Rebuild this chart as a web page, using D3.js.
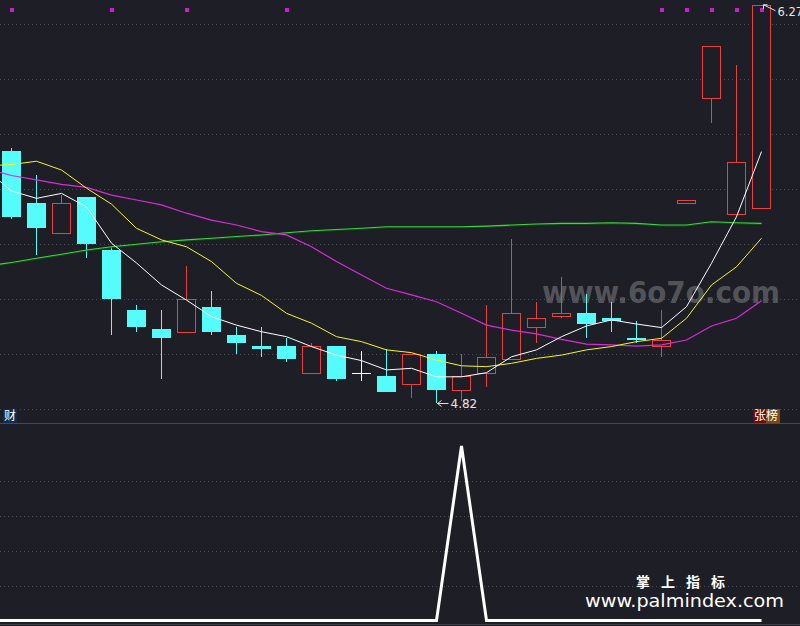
<!DOCTYPE html>
<html><head><meta charset="utf-8">
<script src="https://cdn.jsdelivr.net/npm/d3@7"></script>
<style>html,body{margin:0;padding:0;background:#1e1f26;overflow:hidden}</style>
</head><body><svg id="c" width="800" height="626"></svg>
<script>
// ---- data (prices) ----
const openP  = [5.74,5.55,5.44,5.57,5.38,5.16,5.09,5.08,5.17,5.07,5.03,5.03,4.93,5.03,4.93,4.92,4.89,5.00,4.87,4.93,4.98,5.10,5.14,5.15,5.13,5.06,5.03,5.55,5.93,5.51,5.53];
const highP  = [5.75,5.65,5.58,5.57,5.39,5.18,5.16,5.32,5.23,5.10,5.10,5.06,5.04,5.03,5.01,5.02,5.00,5.01,5.00,5.18,5.42,5.19,5.28,5.22,5.19,5.12,5.16,5.56,6.12,6.05,6.27];
const lowP   = [5.49,5.36,5.44,5.35,5.07,5.08,4.91,5.08,5.07,5.00,4.99,4.97,4.93,4.90,4.90,4.86,4.84,4.82,4.83,4.88,4.98,5.04,5.13,5.06,5.08,5.04,4.99,5.55,5.84,5.51,5.53];
const closeP = [5.50,5.46,5.55,5.40,5.20,5.10,5.06,5.20,5.08,5.04,5.02,4.98,5.03,4.91,4.93,4.86,5.00,4.87,4.92,4.99,5.15,5.13,5.15,5.11,5.12,5.05,5.05,5.56,6.12,5.70,6.27];
// moving averages and indicator start one bar before the first visible candle
const seriesStart = -1;
const ma5  = [5.669,5.593,5.566,5.584,5.535,5.403,5.331,5.251,5.196,5.136,5.105,5.081,5.063,5.027,4.996,4.976,4.942,4.948,4.917,4.917,4.932,4.990,5.015,5.063,5.102,5.124,5.109,5.096,5.172,5.330,5.499,5.736];
const ma10 = [5.684,5.689,5.701,5.669,5.603,5.545,5.457,5.415,5.390,5.336,5.257,5.213,5.148,5.112,5.063,5.045,5.015,5.005,4.978,4.957,4.954,4.966,4.984,4.996,5.015,5.027,5.045,5.057,5.130,5.251,5.317,5.421];
const ma20 = [5.673,5.649,5.633,5.617,5.606,5.578,5.560,5.542,5.512,5.487,5.469,5.445,5.433,5.390,5.336,5.287,5.239,5.215,5.190,5.148,5.105,5.087,5.073,5.053,5.036,5.033,5.029,5.033,5.051,5.102,5.130,5.194];
const ma60 = [5.320,5.333,5.348,5.363,5.378,5.390,5.399,5.408,5.415,5.421,5.427,5.433,5.441,5.448,5.453,5.457,5.463,5.463,5.463,5.463,5.465,5.469,5.473,5.475,5.475,5.477,5.475,5.469,5.469,5.481,5.477,5.475];
const signal = [0,0,0,0,0,0,0,0,0,0,0,0,0,0,0,0,0,0,0,1,0,0,0,0,0,0,0,0,0,0,0,0];
const markBars = [0,4,7,11,26,27,28,29,30];
const priceTicks = [4.8,5.0,5.2,5.4,5.6,5.8,6.0,6.2];
const lowTicks = [0.2,0.4,0.6,0.8];
const lowLabel = "4.82", highLabel = "6.27";

// ---- layout ----
const W = 800, H = 626;
const svg = d3.select("#c");
const BG = "#1e1f26", RED = "#e8413f", CYAN = "#54fcfc";
const x = d3.scaleLinear().domain([0,30]).range([11.5,761.5]);
const y = d3.scaleLinear().domain([4.8,6.2]).range([409,24]);
const yl = d3.scaleLinear().domain([0,1]).range([620.5,446]);
const bw = (x(1)-x(0))*0.76;

svg.append("rect").attr("width",W).attr("height",H).attr("fill",BG);
const defs = svg.append("defs");
defs.append("clipPath").attr("id","clipTop").append("rect").attr("x",0).attr("y",0).attr("width",W).attr("height",423);
defs.append("clipPath").attr("id","clipBot").append("rect").attr("x",0).attr("y",424).attr("width",W).attr("height",200);

// grid
const grid = svg.append("g").attr("stroke","#4b4d57").attr("stroke-dasharray","1,3");
grid.selectAll(".gp").data(priceTicks).join("line").attr("class","gp").attr("x1",0).attr("x2",W)
  .attr("y1",d=>Math.round(y(d))+0.5).attr("y2",d=>Math.round(y(d))+0.5);
grid.selectAll(".gl").data(lowTicks).join("line").attr("class","gl").attr("x1",0).attr("x2",W)
  .attr("y1",d=>Math.round(yl(d))+0.5).attr("y2",d=>Math.round(yl(d))+0.5);

// separators
svg.append("line").attr("x1",0).attr("x2",W).attr("y1",423.5).attr("y2",423.5).attr("stroke","#474955");
svg.append("line").attr("x1",0).attr("x2",W).attr("y1",624.5).attr("y2",624.5).attr("stroke","#3a3c47");

// watermark
svg.append("text").attr("x",542).attr("y",303).attr("textLength",238).attr("lengthAdjust","spacingAndGlyphs")
  .attr("font-family","DejaVu Sans").attr("font-weight","bold").attr("font-size",31)
  .attr("fill","rgba(150,150,155,0.45)").text("www.6o7o.com");

const gTop = svg.append("g").attr("clip-path","url(#clipTop)");

// candles
const idx = d3.range(openP.length);
const candles = gTop.append("g");
idx.forEach(i=>{
  const o=openP[i], c=closeP[i], h=highP[i], l=lowP[i];
  const cx = x(i);
  const yT = Math.round(y(Math.max(o,c))), yB = Math.round(y(Math.min(o,c)));
  const yH = Math.round(y(h)), yL = Math.round(y(l));
  if (c > o) {
    if (yH < yT) candles.append("line").attr("x1",cx).attr("x2",cx).attr("y1",yH).attr("y2",yT).attr("stroke",RED);
    if (yL > yB) candles.append("line").attr("x1",cx).attr("x2",cx).attr("y1",yB).attr("y2",yL).attr("stroke",RED);
    candles.append("rect").attr("x",Math.round(cx-bw/2)+0.5).attr("y",yT+0.5)
      .attr("width",Math.round(bw)-1).attr("height",Math.max(1,yB-yT)).attr("fill",BG).attr("stroke",RED);
  } else if (c < o) {
    candles.append("line").attr("x1",cx).attr("x2",cx).attr("y1",yH).attr("y2",yL).attr("stroke",CYAN);
    candles.append("rect").attr("x",Math.round(cx-bw/2)).attr("y",yT)
      .attr("width",Math.round(bw)).attr("height",Math.max(2,yB-yT)).attr("fill",CYAN);
  } else {
    candles.append("line").attr("x1",cx).attr("x2",cx).attr("y1",yH).attr("y2",yL).attr("stroke","#ffffff");
    candles.append("line").attr("x1",Math.round(cx-bw/2)).attr("x2",Math.round(cx+bw/2)).attr("y1",yT+0.5).attr("y2",yT+0.5).attr("stroke","#ffffff");
  }
});

// moving averages
const line = d3.line().x((d,k)=>x(k+seriesStart)).y(d=>y(d));
gTop.append("path").attr("d",line(ma60)).attr("fill","none").attr("stroke","#0e4f12").attr("stroke-width",1).attr("transform","translate(0,1)");
gTop.append("path").attr("d",line(ma60)).attr("fill","none").attr("stroke","#3fd63f").attr("stroke-width",1.1);
gTop.append("path").attr("d",line(ma20)).attr("fill","none").attr("stroke","#d92bd9").attr("stroke-width",1.2);
gTop.append("path").attr("d",line(ma10)).attr("fill","none").attr("stroke","#f5f522").attr("stroke-width",1);
gTop.append("path").attr("d",line(ma5)).attr("fill","none").attr("stroke","#ffffff").attr("stroke-width",1);

// marks on top
gTop.selectAll(".mk").data(markBars).join("rect").attr("class","mk")
  .attr("x",d=>Math.round(x(d))-2).attr("y",8).attr("width",4).attr("height",4).attr("fill","#cc1fcc");

// low / high labels
const iLow = d3.minIndex(lowP), iHigh = d3.maxIndex(highP);
const lx = x(iLow)+1, ly = y(lowP[iLow]);
gTop.append("path").attr("d",`M${lx+11},${ly}H${lx}M${lx+4},${ly-3}L${lx},${ly}L${lx+4},${ly+3}`)
  .attr("stroke","#e0e0e0").attr("fill","none");
gTop.append("text").attr("x",lx+13).attr("y",ly+4.5).attr("font-family","DejaVu Sans").attr("font-size",12)
  .attr("fill","#e6e6e6").text(lowLabel);
const hx = x(iHigh)+2, hy = y(highP[iHigh]);
gTop.append("path").attr("d",`M${hx+12},${hy+6}L${hx},${hy}M${hx+4},${hy}H${hx}V${hy+4}`)
  .attr("stroke","#e0e0e0").attr("fill","none");
gTop.append("text").attr("x",hx+14).attr("y",hy+11).attr("font-family","DejaVu Sans").attr("font-size",11.5)
  .attr("fill","#e6e6e6").text(highLabel);

// tags
svg.append("rect").attr("x",3).attr("y",409).attr("width",14).attr("height",14).attr("fill","#0c2d52");
svg.append("text").attr("x",4).attr("y",420).attr("font-family","Noto Sans CJK SC").attr("font-size",12).attr("fill","#ffffff").text("财");
svg.append("rect").attr("x",753).attr("y",409).attr("width",13).attr("height",14).attr("fill","#6e0b0b");
svg.append("rect").attr("x",766).attr("y",409).attr("width",14).attr("height",14).attr("fill","#7d4a12");
svg.append("text").attr("x",754).attr("y",420).attr("font-family","Noto Sans CJK SC").attr("font-size",12).attr("fill","#ffffff").text("张榜");

// lower indicator
const gBot = svg.append("g").attr("clip-path","url(#clipBot)");
const lineL = d3.line().x((d,k)=>x(k+seriesStart)).y(d=>yl(d));
gBot.append("path").attr("d",lineL(signal)).attr("fill","none").attr("stroke","#ffffff").attr("stroke-width",3).attr("stroke-linejoin","miter");

// footer watermark
svg.append("text").attr("x",636).attr("y",587).attr("font-family","Noto Sans CJK SC").attr("font-weight","bold")
  .attr("font-size",14).attr("letter-spacing",11).attr("fill","#ffffff").text("掌上指标");
svg.append("text").attr("x",585).attr("y",607).attr("textLength",199).attr("lengthAdjust","spacingAndGlyphs")
  .attr("font-family","DejaVu Sans").attr("font-size",17).attr("fill","#ffffff").text("www.palmindex.com");
</script></body></html>
